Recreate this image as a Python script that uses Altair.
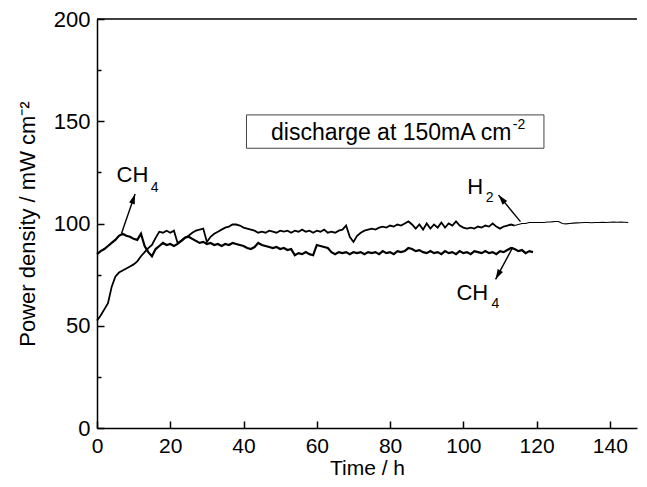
import altair as alt
import pandas as pd

# ---- data ----
ch4_time = list(range(0, 120))
ch4_power = [
    85.0, 86.5, 87.5, 89.0, 90.5, 92.0, 94.0, 95.0, 94.0, 93.5,
    92.5, 92.0, 95.0, 89.0, 86.0, 84.0, 87.5, 89.0, 90.5, 89.5,
    90.0, 89.0, 90.0, 91.5, 93.0, 93.5, 92.5, 91.5, 90.5, 91.0,
    90.0, 90.5, 89.5, 90.0, 89.0, 90.0, 89.5, 90.5, 90.0, 89.5,
    89.0, 88.0, 87.5, 88.5, 90.5, 89.5, 89.0, 88.5, 88.0, 88.5,
    87.5, 88.0, 87.0, 87.5, 84.5, 85.5, 85.0, 86.0, 85.0, 84.5,
    89.5, 89.0, 88.5, 88.0, 86.0, 85.0, 86.0, 85.5, 86.0, 85.0,
    86.0, 85.5, 86.0, 85.0, 86.0, 85.5, 86.0, 85.0, 86.5, 85.5,
    86.0, 85.0, 86.5, 86.0, 86.5, 88.0, 87.5, 86.5, 87.0, 86.0,
    85.5, 86.5, 85.5, 86.0, 85.0, 86.5, 85.5, 86.0, 85.0, 86.5,
    85.5, 86.0, 85.0, 86.5, 86.0, 85.5, 86.5, 85.5, 86.0, 85.0,
    86.5, 86.0, 87.0, 88.0, 87.5, 86.5, 87.0, 85.5, 86.5, 86.0,
]

h2_time = list(range(0, 146))
h2_power = [
    52.5, 55.0, 58.0, 61.0, 69.0, 74.0, 76.0, 77.0, 78.0, 79.0,
    80.0, 81.5, 84.0, 86.0, 88.0, 89.5, 93.0, 96.0, 95.5, 96.5,
    95.5, 96.5, 90.5, 91.5, 93.0, 94.0, 95.5, 96.5, 97.0, 97.5,
    91.0, 93.5, 95.0, 96.0, 97.0, 98.0, 98.5, 99.5, 99.5, 99.0,
    98.0, 97.5, 97.0, 96.5, 95.5, 96.0, 95.5, 96.5, 96.0, 95.5,
    96.5, 96.0, 96.5, 95.5, 96.5, 96.0, 97.0, 96.0, 96.5, 95.5,
    96.5, 96.0, 97.0, 95.5, 96.0, 95.5, 96.5, 97.0, 99.0, 93.5,
    91.0, 94.0, 95.5, 96.5, 97.0, 97.5, 97.0, 98.0, 98.5, 98.0,
    99.0, 98.5, 99.5, 99.0, 100.0, 101.0, 99.5, 97.5, 99.5, 97.0,
    100.0, 97.5, 99.5, 98.0, 100.5, 98.0, 100.0, 99.0, 101.0, 99.0,
    98.0, 97.5, 98.0, 97.5, 98.5, 98.0, 99.0, 98.5, 100.0, 98.5,
    97.5, 98.5, 99.0, 99.5, 99.0, 99.5, 100.0, 100.0, 100.5, 100.5,
    100.5, 100.5, 100.5, 100.7, 100.8, 101.0, 101.0, 100.0, 99.8, 100.0,
    100.2, 100.3, 100.4, 100.5, 100.5, 100.4, 100.5, 100.5, 100.6, 100.5,
    100.6, 100.7, 100.6, 100.7, 100.6, 100.5,
]
h2_calm_from = 114  # hour after which the H2 trace is smooth

# annotation box
box_x = [40.8]
box_x2 = [122.0]
box_y = [136.8]
box_y2 = [153.1]
box_text = ["discharge at 150mA cm"]
box_text_x = [113.1]
box_text_y = [144.1]
box_sup = ["-2"]
box_sup_x = [113.5]
box_sup_y = [148.2]

# species labels (main part right-aligned, subscript left-aligned)
lab_main = ["CH", "H", "CH"]
lab_main_x = [14.0, 105.4, 106.8]
lab_main_y = [123.7, 118.0, 65.9]
lab_sub = ["4", "2", "4"]
lab_sub_x = [14.7, 106.1, 107.7]
lab_sub_y = [117.2, 112.3, 60.5]

# arrows: tail -> tip
arr_x = [6.7, 115.6, 113.5]
arr_y = [95.2, 100.9, 88.4]
arr_x2 = [10.4, 109.6, 108.8]
arr_y2 = [114.4, 113.9, 72.7]
arr_angle = [18.7, 320.5, 208.4]

FONT = "Liberation Sans"
X_DOMAIN = [0, 147.4]
Y_DOMAIN = [0, 200]

xs = alt.Scale(domain=X_DOMAIN, nice=False, zero=False)
ys = alt.Scale(domain=Y_DOMAIN, nice=False, zero=False)

common_axis = dict(
    grid=False,
    domainColor="black",
    domainWidth=1.5,
    tickColor="black",
    tickWidth=1.5,
    labelColor="black",
    labelFont=FONT,
    labelFlush=False,
    labelOverlap=False,
    titleFont=FONT,
    titleFontWeight="normal",
    titleColor="black",
)

x_axis = alt.Axis(
    values=list(range(0, 150, 10)),
    labelExpr="datum.value % 20 === 0 ? datum.label : ''",
    tickSize=alt.ExprRef(expr="datum.value % 20 === 0 ? -7 : -4"),
    labelPadding=14,
    labelFontSize=21,
    title="Time / h",
    titleFontSize=21,
    titleBaseline="alphabetic",
    titleY=46.5,
    **common_axis,
)
y_axis = alt.Axis(
    values=list(range(0, 201, 25)),
    labelExpr="datum.value % 50 === 0 ? datum.label : ''",
    tickSize=alt.ExprRef(expr="datum.value % 50 === 0 ? -7 : -4"),
    labelPadding=14,
    labelFontSize=22,
    title="Power density / mW cm\u207b\u00b2",
    titleFontSize=22,
    titlePadding=14,
    **common_axis,
)

ch4_df = pd.DataFrame({"t": ch4_time, "p": ch4_power})
h2_df = pd.DataFrame({"t": h2_time, "p": h2_power})
h2_noisy = h2_df[h2_df.t <= h2_calm_from]
h2_calm = h2_df[h2_df.t >= h2_calm_from]

ch4_line = alt.Chart(ch4_df).mark_line(color="black", strokeWidth=2.2).encode(
    x=alt.X("t:Q", scale=xs, axis=x_axis),
    y=alt.Y("p:Q", scale=ys, axis=y_axis),
)
h2_line_noisy = alt.Chart(h2_noisy).mark_line(color="black", strokeWidth=1.8).encode(
    x=alt.X("t:Q", scale=xs),
    y=alt.Y("p:Q", scale=ys),
)
h2_line_calm = alt.Chart(h2_calm).mark_line(color="black", strokeWidth=1.1).encode(
    x=alt.X("t:Q", scale=xs),
    y=alt.Y("p:Q", scale=ys),
)

top_frame = alt.Chart(pd.DataFrame({"v": [200]})).mark_rule(
    color="black", strokeWidth=1.5
).encode(y=alt.Y("v:Q", scale=ys))

box_df = pd.DataFrame({"x": box_x, "x2": box_x2, "y": box_y, "y2": box_y2})
box = alt.Chart(box_df).mark_rect(
    fill="white", stroke="#444444", strokeWidth=1
).encode(
    x=alt.X("x:Q", scale=xs), x2="x2", y=alt.Y("y:Q", scale=ys), y2="y2"
)

bt_df = pd.DataFrame({"x": box_text_x, "y": box_text_y, "s": box_text})
box_txt = alt.Chart(bt_df).mark_text(
    align="right", baseline="middle", font=FONT, fontSize=23, color="black"
).encode(x=alt.X("x:Q", scale=xs), y=alt.Y("y:Q", scale=ys), text="s:N")

bs_df = pd.DataFrame({"x": box_sup_x, "y": box_sup_y, "s": box_sup})
box_sup_txt = alt.Chart(bs_df).mark_text(
    align="left", baseline="middle", font=FONT, fontSize=14, color="black"
).encode(x=alt.X("x:Q", scale=xs), y=alt.Y("y:Q", scale=ys), text="s:N")

lm_df = pd.DataFrame({"x": lab_main_x, "y": lab_main_y, "s": lab_main})
lab_main_txt = alt.Chart(lm_df).mark_text(
    align="right", baseline="middle", font=FONT, fontSize=22, color="black"
).encode(x=alt.X("x:Q", scale=xs), y=alt.Y("y:Q", scale=ys), text="s:N")

ls_df = pd.DataFrame({"x": lab_sub_x, "y": lab_sub_y, "s": lab_sub})
lab_sub_txt = alt.Chart(ls_df).mark_text(
    align="left", baseline="middle", font=FONT, fontSize=14, color="black"
).encode(x=alt.X("x:Q", scale=xs), y=alt.Y("y:Q", scale=ys), text="s:N")

arr_df = pd.DataFrame(
    {"x": arr_x, "y": arr_y, "x2": arr_x2, "y2": arr_y2, "a": arr_angle}
)
shafts = alt.Chart(arr_df).mark_rule(color="black", strokeWidth=1.4).encode(
    x=alt.X("x:Q", scale=xs), y=alt.Y("y:Q", scale=ys), x2="x2", y2="y2"
)
heads = alt.Chart(arr_df).mark_point(
    shape="M0,0L0.6,2L-0.6,2Z", filled=True, color="black", size=100, opacity=1
).encode(
    x=alt.X("x2:Q", scale=xs),
    y=alt.Y("y2:Q", scale=ys),
    angle=alt.Angle("a:Q", scale=alt.Scale(domain=[0, 360], range=[0, 360])),
)

chart = alt.layer(
    box, ch4_line, h2_line_noisy, h2_line_calm, top_frame, box_txt, box_sup_txt,
    lab_main_txt, lab_sub_txt, shafts, heads,
).properties(
    width=540,
    height=409,
    autosize=alt.AutoSizeParams(type="none"),
    padding={"left": 89, "top": 11, "right": 2, "bottom": 51},
    background="white",
).configure_view(stroke=None)

chart.save("out.html", embed_options={"renderer": "svg", "actions": False})
